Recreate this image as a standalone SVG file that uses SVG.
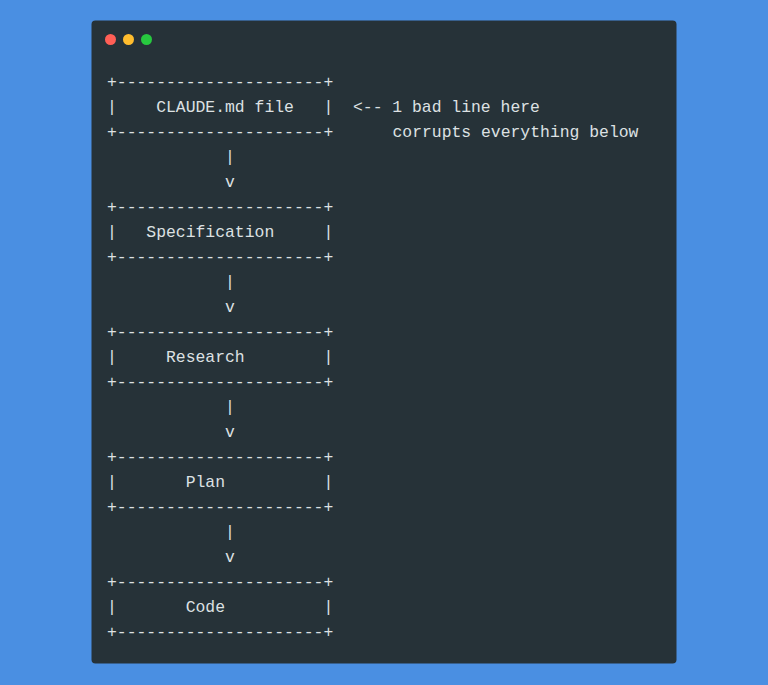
<svg xmlns="http://www.w3.org/2000/svg" width="768" height="685" viewBox="0 0 768 685">
<style>
.t{font-family:"Liberation Mono","DejaVu Sans Mono",monospace;font-size:16.4px;fill:#dde1e3;white-space:pre}
</style>
<rect x="0" y="0" width="768" height="685" fill="#4a8fe2"/>
<rect x="91.5" y="20.5" width="585" height="643" rx="4" fill="#263238"/>
<circle cx="110.5" cy="39.5" r="5.5" fill="#ff5f56"/>
<circle cx="128.5" cy="39.5" r="5.5" fill="#ffbd2e"/>
<circle cx="146.5" cy="39.5" r="5.5" fill="#27c93f"/>
<g id="node-claude">
<text class="t" x="107" y="87" xml:space="preserve">+---------------------+</text>
<text class="t" x="107" y="112" xml:space="preserve">|    CLAUDE.md file   |</text>
<text class="t" x="107" y="137" xml:space="preserve">+---------------------+</text>
</g>
<g id="note">
<text class="t" x="353" y="112" xml:space="preserve">&lt;-- 1 bad line here</text>
<text class="t" x="392.5" y="137" xml:space="preserve">corrupts everything below</text>
</g>
<g id="node-spec">
<text class="t" x="107" y="212" xml:space="preserve">+---------------------+</text>
<text class="t" x="107" y="237" xml:space="preserve">|   Specification     |</text>
<text class="t" x="107" y="262" xml:space="preserve">+---------------------+</text>
</g>
<g id="node-research">
<text class="t" x="107" y="337" xml:space="preserve">+---------------------+</text>
<text class="t" x="107" y="362" xml:space="preserve">|     Research        |</text>
<text class="t" x="107" y="387" xml:space="preserve">+---------------------+</text>
</g>
<g id="node-plan">
<text class="t" x="107" y="462" xml:space="preserve">+---------------------+</text>
<text class="t" x="107" y="487" xml:space="preserve">|       Plan          |</text>
<text class="t" x="107" y="512" xml:space="preserve">+---------------------+</text>
</g>
<g id="node-code">
<text class="t" x="107" y="587" xml:space="preserve">+---------------------+</text>
<text class="t" x="107" y="612" xml:space="preserve">|       Code          |</text>
<text class="t" x="107" y="637" xml:space="preserve">+---------------------+</text>
</g>
<g id="connectors">
<text class="t" x="225" y="162">|</text>
<text class="t" x="225" y="187">v</text>
<text class="t" x="225" y="287">|</text>
<text class="t" x="225" y="312">v</text>
<text class="t" x="225" y="412">|</text>
<text class="t" x="225" y="437">v</text>
<text class="t" x="225" y="537">|</text>
<text class="t" x="225" y="562">v</text>
</g>
</svg>
